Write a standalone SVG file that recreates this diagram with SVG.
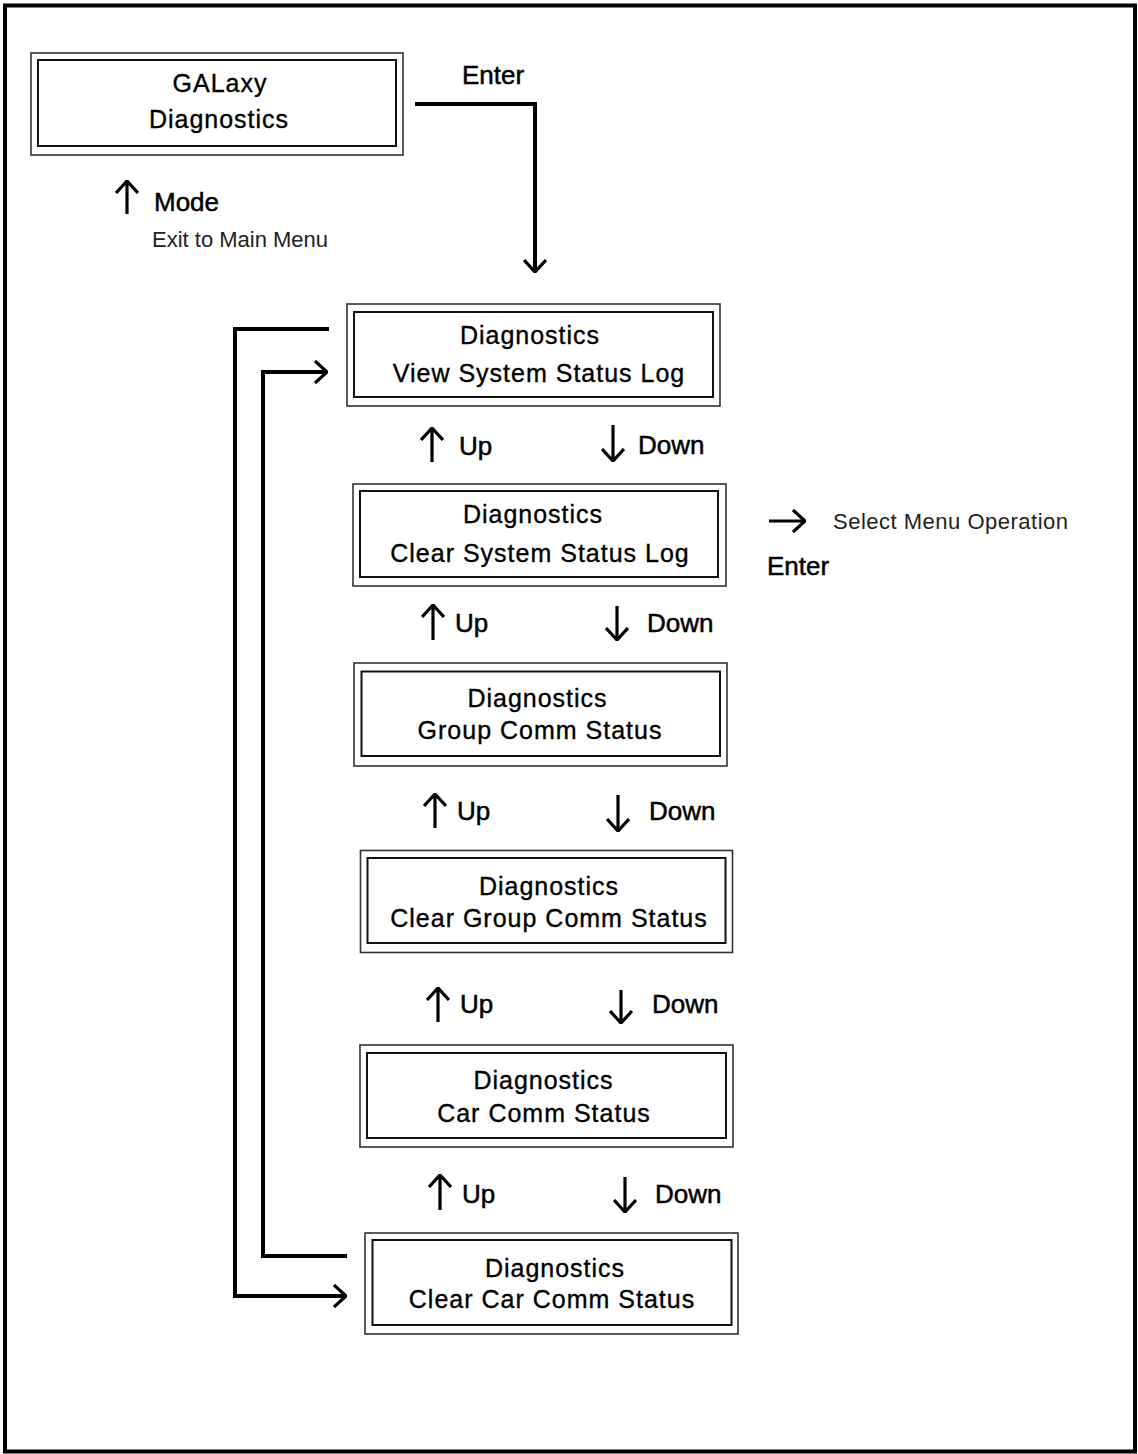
<svg xmlns="http://www.w3.org/2000/svg" width="1138" height="1454" viewBox="0 0 1138 1454">
<style>
.frame{fill:#fff;stroke:#000;stroke-width:4}
.outer{fill:none;stroke:#333;stroke-width:1.6}
.inner{fill:none;stroke:#111;stroke-width:2}
.nt{font-family:"Liberation Sans",Arial,sans-serif;font-size:25px;letter-spacing:1px;fill:#000;stroke:#000;stroke-width:0.35;text-anchor:middle}
.lbl{font-family:"Liberation Sans",Arial,sans-serif;font-size:26px;fill:#000;stroke:#000;stroke-width:0.5}
.light{font-family:"Liberation Sans",Arial,sans-serif;font-size:22px;fill:#222}
.conn{fill:none;stroke:#000;stroke-width:4}
.sa{fill:none;stroke:#000;stroke-width:3.2}
</style>
<defs>
<marker id="ah" viewBox="0 0 14 24" refX="13" refY="12" markerWidth="14" markerHeight="24" markerUnits="userSpaceOnUse" orient="auto">
<path d="M1,1 L13,12 L1,23" fill="none" stroke="#000" stroke-width="3.2"/>
</marker>
</defs>
<rect class="frame" x="5" y="5.5" width="1130" height="1446"/>

<g id="node-galaxy">
<rect class="outer" x="31" y="53" width="372" height="102"/>
<rect class="inner" x="38" y="60" width="358" height="86"/>
<text class="nt" x="220" y="92">GALaxy</text>
<text class="nt" x="219" y="128">Diagnostics</text>
</g>
<g id="node-view-log">
<rect class="outer" x="347" y="304" width="373" height="102"/>
<rect class="inner" x="354" y="312" width="359" height="85"/>
<text class="nt" x="530" y="344">Diagnostics</text>
<text class="nt" x="539" y="382">View System Status Log</text>
</g>
<g id="node-clear-log">
<rect class="outer" x="353" y="484" width="373" height="102"/>
<rect class="inner" x="360" y="491" width="358" height="86"/>
<text class="nt" x="533" y="523">Diagnostics</text>
<text class="nt" x="540" y="562">Clear System Status Log</text>
</g>
<g id="node-group-comm">
<rect class="outer" x="354" y="663" width="373" height="103"/>
<rect class="inner" x="361.5" y="671.5" width="358.5" height="84.5"/>
<text class="nt" x="537.5" y="707">Diagnostics</text>
<text class="nt" x="540" y="739">Group Comm Status</text>
</g>
<g id="node-clear-group">
<rect class="outer" x="360.5" y="850.5" width="372" height="102"/>
<rect class="inner" x="367.5" y="858" width="358" height="85"/>
<text class="nt" x="549" y="895">Diagnostics</text>
<text class="nt" x="549" y="927">Clear Group Comm Status</text>
</g>
<g id="node-car-comm">
<rect class="outer" x="360" y="1045" width="373" height="102"/>
<rect class="inner" x="367" y="1053" width="359" height="85"/>
<text class="nt" x="543.5" y="1089">Diagnostics</text>
<text class="nt" x="544" y="1122">Car Comm Status</text>
</g>
<g id="node-clear-car">
<rect class="outer" x="365" y="1233" width="373" height="101"/>
<rect class="inner" x="372.5" y="1240" width="359" height="85"/>
<text class="nt" x="555" y="1277">Diagnostics</text>
<text class="nt" x="552" y="1308">Clear Car Comm Status</text>
</g>

<g id="connectors">
<path class="conn" d="M415,104 H535 V272" marker-end="url(#ah)"/>
<path class="conn" d="M329,329 H235 V1296 H346" marker-end="url(#ah)"/>
<path class="conn" d="M347,1256 H263 V372 H327" marker-end="url(#ah)"/>
</g>

<g id="labels">
<text class="lbl" x="462" y="84">Enter</text>
<path class="sa" d="M127,214 V181" marker-end="url(#ah)"/>
<text class="lbl" x="154" y="211">Mode</text>
<text class="light" x="152" y="247">Exit to Main Menu</text>

<path class="sa" d="M769,521 H805" marker-end="url(#ah)"/>
<text class="light" x="833" y="529" style="letter-spacing:0.5px">Select Menu Operation</text>
<text class="lbl" x="767" y="575">Enter</text>

<path class="sa" d="M432,462 V428" marker-end="url(#ah)"/>
<text class="lbl" x="459" y="455">Up</text>
<path class="sa" d="M613,425 V461" marker-end="url(#ah)"/>
<text class="lbl" x="638" y="454">Down</text>

<path class="sa" d="M433,640 V605" marker-end="url(#ah)"/>
<text class="lbl" x="455" y="632">Up</text>
<path class="sa" d="M617,606 V640" marker-end="url(#ah)"/>
<text class="lbl" x="647" y="632">Down</text>

<path class="sa" d="M435,828 V794" marker-end="url(#ah)"/>
<text class="lbl" x="457" y="820">Up</text>
<path class="sa" d="M618,795 V831" marker-end="url(#ah)"/>
<text class="lbl" x="649" y="820">Down</text>

<path class="sa" d="M438,1022 V988" marker-end="url(#ah)"/>
<text class="lbl" x="460" y="1013">Up</text>
<path class="sa" d="M621,990 V1023" marker-end="url(#ah)"/>
<text class="lbl" x="652" y="1013">Down</text>

<path class="sa" d="M440,1210 V1175" marker-end="url(#ah)"/>
<text class="lbl" x="462" y="1203">Up</text>
<path class="sa" d="M625,1177 V1212" marker-end="url(#ah)"/>
<text class="lbl" x="655" y="1203">Down</text>
</g>
</svg>
